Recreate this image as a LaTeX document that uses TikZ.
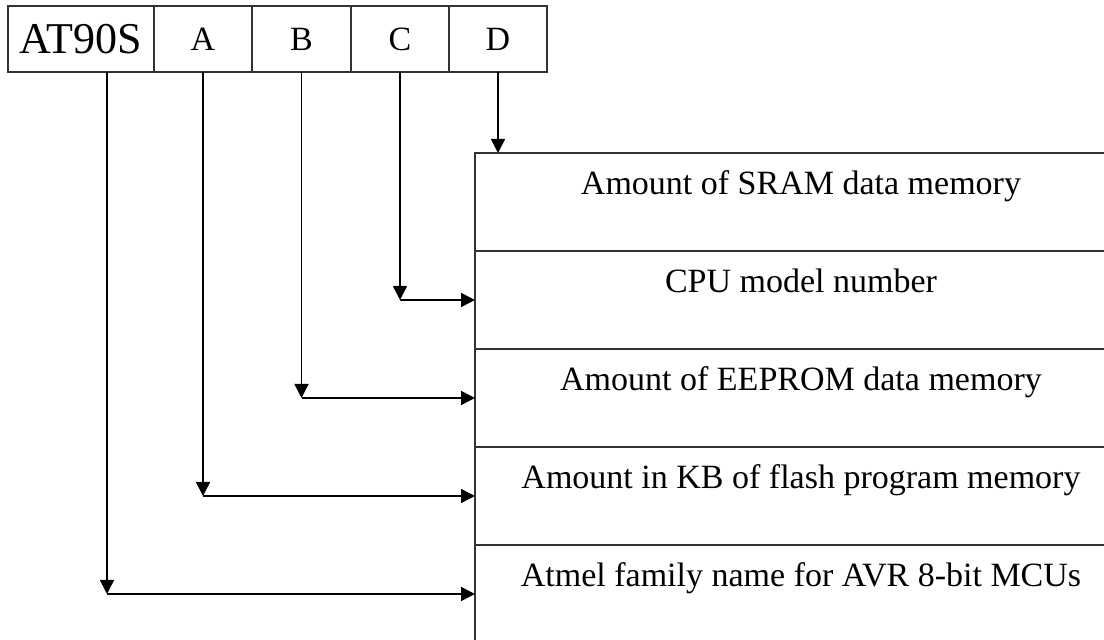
\documentclass[tikz,border=0pt]{standalone}
\usepackage{fontspec}
\setmainfont{Liberation Serif}
\usetikzlibrary{arrows.meta}
\tikzset{
  cell/.style={draw=black!80, line width=0.8pt, inner sep=0pt, outer sep=0pt,
    minimum height=33pt, font=\fontsize{17}{20}\selectfont},
  field/.style={draw=black!80, line width=0.8pt, inner sep=0pt, outer sep=0pt,
    minimum width=326pt, minimum height=49pt},
  fieldtext/.style={anchor=base, inner sep=0pt, font=\fontsize{17}{20}\selectfont},
  link/.style={line width=0.8pt, -{Triangle[length=7pt,width=7pt]}},
}
\begin{document}
\begin{tikzpicture}[x=0.5pt,y=-0.5pt]
  \useasboundingbox (0,0) rectangle (1104,640);
  \clip (0,0) rectangle (1104,640);
  % part number fields
  \foreach \nm/\l/\r/\t in {at/8/154/{\fontsize{22}{26}\selectfont AT90S},a/154/252/A,b/252/351/B,c/351/449/C,d/449/547/D}{
    \node[cell, minimum width={(\r-\l)*0.5pt}] (\nm) at ({(\l+\r)/2},39) {\t};
  }
  % meanings
  \foreach \i/\t in {1/Amount of SRAM data memory,2/CPU model number,3/Amount of EEPROM data memory,4/Amount in KB of flash program memory,5/Atmel family name for AVR 8-bit MCUs}{
    \node[field] (f\i) at (801,{104+98*\i}) {};
    \node[fieldtext] (t\i) at ([yshift=-21pt]f\i.north) {\t};
  }
  % connectors
  \draw[link] (d.south) -- (d.south |- f1.north);
  \foreach \s/\f in {c/2,b/3,a/4}{
    \coordinate (k\s) at (\s.south |- f\f.west);
    \draw[link] (\s.south) -- (k\s);
    \draw[link] (k\s) -- (f\f.west);
  }
  \coordinate (atout) at ([xshift=13pt]at.south);
  \coordinate (kat) at (atout |- f5.west);
  \draw[link] (atout) -- (kat);
  \draw[link] (kat) -- (f5.west);
\end{tikzpicture}
\end{document}
